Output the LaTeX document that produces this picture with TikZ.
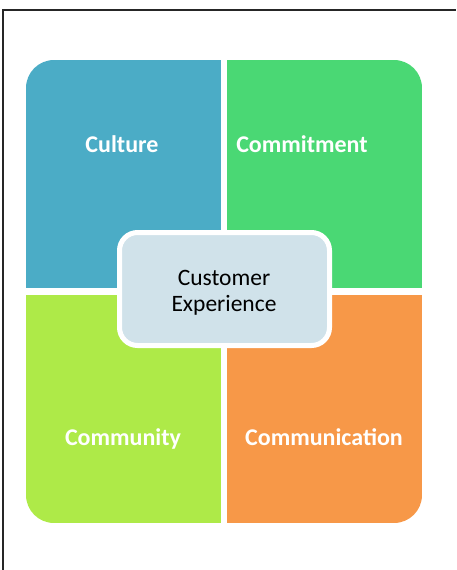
\documentclass[tikz,border=0pt]{standalone}
\usepackage{fontspec}
\setmainfont{Carlito}
\definecolor{cultureblue}{HTML}{4BACC6}
\definecolor{commitgreen}{HTML}{4AD874}
\definecolor{communitylime}{HTML}{AEEA48}
\definecolor{commorange}{HTML}{F79848}
\definecolor{corefill}{HTML}{D0E2EA}
\begin{document}
\begin{tikzpicture}[x=1pt,y=-1pt,
  quad/.style={inner sep=0pt, outer sep=0pt, minimum width=195pt, minimum height=228pt},
  quadlabel/.style={text=white, font=\fontsize{24}{28}\selectfont\bfseries, inner sep=0pt, anchor=base},
  core/.style={draw=white, line width=5pt, fill=corefill, rounded corners=18pt,
    minimum width=210pt, minimum height=113pt},
  coretext/.style={font=\fontsize{23.5}{25}\selectfont, text=black, inner sep=0pt, anchor=base},
  frame/.style={line width=2pt, draw=black!85}]
  % page extent
  \useasboundingbox (0,0) rectangle (456,570);
  % frame edges
  \draw[frame] (2.5,570) -- (2.5,9.5) -- (456,9.5);
  % four quadrants inside one rounded outline
  \begin{scope}
    \clip[rounded corners=28pt] (26,60) rectangle (422,523);
    \node[quad, fill=cultureblue]   (q1) at (123.5,174) {};
    \node[quad, fill=commitgreen]   (q2) at (324.5,174) {};
    \node[quad, fill=communitylime] (q3) at (123.5,408.5) {};
    \node[quad, fill=commorange]    (q4) at (324.5,408.5) {};
  \end{scope}
  % quadrant labels
  \node[quadlabel] (l1) at (122,152) {Culture};
  \node[quadlabel] (l2) at (302,152) {Commitment};
  \node[quadlabel] (l3) at (123,445) {Community};
  \node[quadlabel] (l4) at (324,445) {Communication};
  % central box
  \node[core] (cx) at (224.5,289) {};
  \node[coretext] (t1) at (224,285) {Customer};
  \node[coretext] (t2) at (224,311) {Experience};
\end{tikzpicture}
\end{document}
